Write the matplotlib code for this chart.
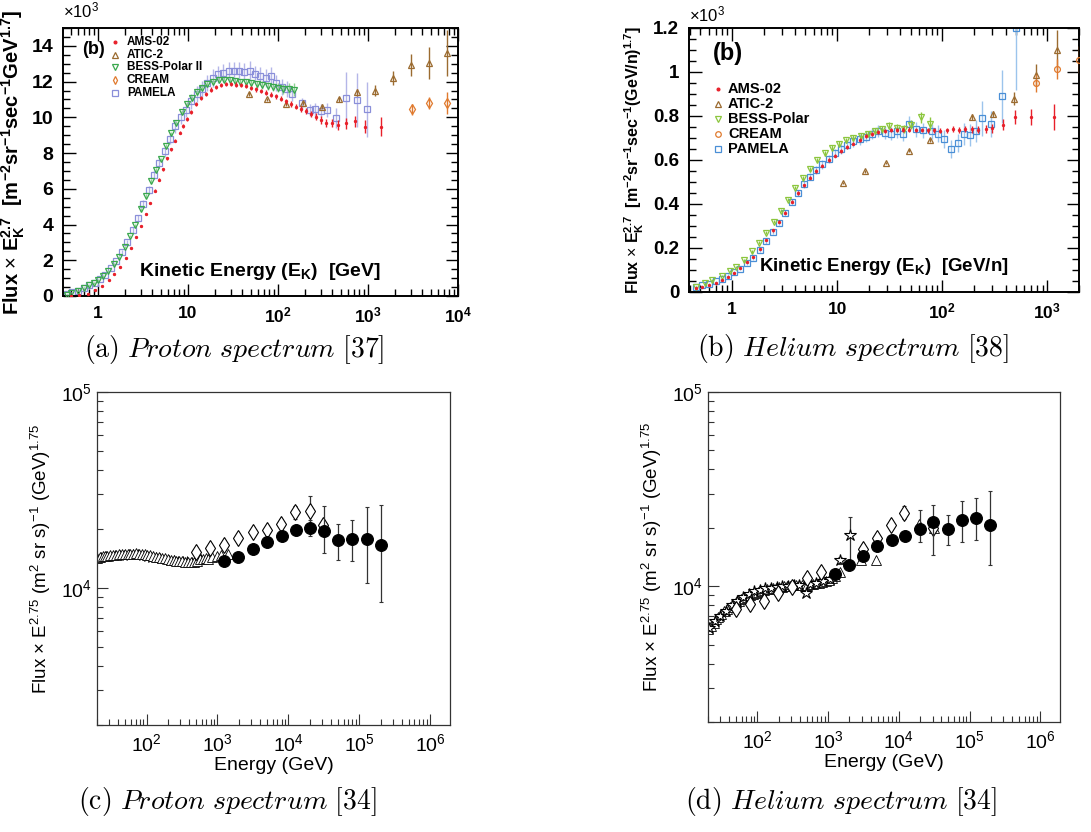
import matplotlib
matplotlib.use("Agg")
import matplotlib.pyplot as plt
from matplotlib.ticker import MultipleLocator, NullFormatter

plt.rcParams['font.family'] = ['Liberation Sans', 'DejaVu Sans']
plt.rcParams['mathtext.fontset'] = 'custom'
plt.rcParams['mathtext.rm'] = 'Liberation Sans'
plt.rcParams['mathtext.it'] = 'Liberation Sans:italic'
plt.rcParams['mathtext.bf'] = 'Liberation Sans:bold'

# ---------------- (a) proton spectrum, flux x E^2.7 (x1e3) ----------------
ams_p_e = [0.5, 0.61, 0.77, 0.93, 1.12, 1.33, 1.53, 1.77, 2.06, 2.34, 2.66, 3.03, 3.39, 3.81,
           4.26, 4.77, 5.27, 5.88, 6.5, 7.2, 8.08, 8.8, 9.7, 10.9, 12.3, 14.0, 16.0, 18.1, 20.6,
           23.5, 26.7, 30.3, 34.5, 39.2, 44.6, 50.7, 57.6, 65.5, 74.5, 84.7, 96.3, 109, 124,
           141, 160, 182, 207, 235, 267, 304, 345, 398, 464, 575, 710, 926, 1383]
ams_p_f = [0.02, 0.04, 0.13, 0.34, 0.57, 0.9, 1.23, 1.64, 2.15, 2.68, 3.3, 3.9, 4.58, 5.2,
           5.9, 6.5, 7.1, 7.7, 8.2, 8.7, 9.15, 9.5, 9.9, 10.3, 10.75, 11.1, 11.3, 11.55, 11.7,
           11.8, 11.85, 11.85, 11.83, 11.8, 11.74, 11.66, 11.57, 11.47, 11.38, 11.26, 11.17,
           11.04, 10.9, 10.75, 10.6, 10.47, 10.34, 10.19, 10.04, 9.85, 9.68, 9.68, 9.57, 9.66,
           9.77, 9.48, 9.48]
ams_p_err = [0.02, 0.02, 0.02, 0.03, 0.03, 0.04, 0.04, 0.05, 0.05, 0.05, 0.06, 0.06, 0.07, 0.07,
             0.08, 0.08, 0.09, 0.09, 0.1, 0.1, 0.1, 0.1, 0.1, 0.1, 0.12, 0.12, 0.12, 0.12, 0.12,
             0.12, 0.12, 0.12, 0.12, 0.12, 0.12, 0.12, 0.13, 0.13, 0.13, 0.14, 0.14, 0.15, 0.15,
             0.16, 0.16, 0.17, 0.18, 0.19, 0.2, 0.2, 0.22, 0.24, 0.26, 0.3, 0.33, 0.38, 0.54]

bess_p_e = [0.45, 0.5, 0.6, 0.7, 0.8, 0.9, 1.0, 1.15, 1.3, 1.5, 1.7, 2.0, 2.3, 2.6, 3.0, 3.4,
            3.9, 4.4, 5.0, 5.7, 6.5, 7.4, 8.5, 9.7, 11, 12.5, 14.5, 16.5, 19, 22, 25, 29, 33,
            38, 44, 50, 58, 67, 77, 88, 100, 115, 132, 150]
bess_p_f = [0.08, 0.17, 0.3, 0.45, 0.6, 0.72, 0.88, 1.1, 1.4, 1.8, 2.2, 2.75, 3.35, 3.95, 4.85,
            5.6, 6.45, 7.05, 7.65, 8.4, 9.1, 9.7, 10.3, 10.75, 11.1, 11.4, 11.65, 11.85, 12.0,
            12.1, 12.1, 12.1, 12.05, 12.0, 11.95, 11.9, 11.85, 11.8, 11.75, 11.7, 11.65, 11.6,
            11.6, 11.55]
bess_p_err = [0.03, 0.03, 0.03, 0.03, 0.04, 0.04, 0.05, 0.05, 0.05, 0.06, 0.06, 0.07, 0.07, 0.08,
              0.08, 0.09, 0.1, 0.1, 0.1, 0.1, 0.1, 0.12, 0.12, 0.12, 0.12, 0.14, 0.14, 0.15, 0.15,
              0.15, 0.15, 0.16, 0.16, 0.17, 0.18, 0.19, 0.2, 0.21, 0.22, 0.24, 0.26, 0.28, 0.3,
              0.35]

pam_p_e = [0.45, 0.52, 0.6, 0.7, 0.8, 0.92, 1.05, 1.2, 1.4, 1.6, 1.85, 2.1, 2.45, 2.8, 3.2, 3.7,
           4.2, 4.8, 5.5, 6.3, 7.2, 8.3, 9.5, 10.9, 12.5, 14.3, 16.4, 18.8, 21.5, 24.7, 28.3,
           32.4, 37.1, 42.5, 48.7, 55.8, 64, 73, 84, 96, 110, 126, 144, 183, 227, 261, 300,
           348, 440, 565, 750, 980]
pam_p_f = [0.1, 0.2, 0.3, 0.45, 0.6, 0.75, 0.95, 1.2, 1.55, 1.95, 2.45, 3.0, 3.7, 4.35, 5.15,
           5.95, 6.8, 7.45, 8.1, 8.8, 9.5, 10.0, 10.4, 10.9, 11.3, 11.6, 11.9, 12.2, 12.4,
           12.5, 12.6, 12.6, 12.6, 12.55, 12.6, 12.4, 12.3, 12.2, 12.3, 11.9, 11.7, 11.6, 11.3,
           10.79, 10.4, 10.45, 10.37, 10.41, 9.98, 11.1, 10.97, 10.45]
pam_p_err = [0.03, 0.03, 0.04, 0.04, 0.05, 0.05, 0.06, 0.06, 0.07, 0.08, 0.1, 0.12, 0.15, 0.18,
             0.2, 0.22, 0.25, 0.28, 0.3, 0.32, 0.35, 0.38, 0.4, 0.42, 0.45, 0.45, 0.45, 0.5, 0.5,
             0.5, 0.5, 0.5, 0.5, 0.5, 0.55, 0.5, 0.5, 0.5, 0.5, 0.45, 0.45, 0.45, 0.4, 0.3, 0.35,
             0.35, 0.35, 0.4, 0.55, 1.45, 1.5, 1.55]

atic_p_e = [48, 76, 122, 191, 306, 480, 760, 1196, 1880, 2980, 4790, 7480]
atic_p_f = [11.29, 11.01, 10.73, 10.79, 10.6, 11.01, 11.4, 11.5, 12.2, 12.93, 13.03, 13.59]
atic_p_err = [0.1, 0.1, 0.1, 0.12, 0.12, 0.15, 0.2, 0.3, 0.4, 0.6, 0.9, 1.3]

cream_p_e = [3050, 4790, 7600]
cream_p_f = [10.45, 10.79, 10.79]
cream_p_err = [0.3, 0.35, 0.6]

# ---------------- (b) helium spectrum, flux x E^2.7 (x1e3) ----------------
ams_he_e = [0.45, 0.52, 0.6, 0.7, 0.8, 0.92, 1.05, 1.2, 1.4, 1.6, 1.85, 2.1, 2.45, 2.8, 3.2,
            3.7, 4.2, 4.8, 5.5, 6.3, 7.2, 8.3, 9.5, 10.9, 12.5, 14.3, 16.4, 18.8, 21.5, 24.7,
            28.3, 32.4, 37.1, 42.5, 48.7, 55.8, 64, 73, 84, 96, 110, 126, 144, 165, 190, 220,
            260, 300, 380, 490, 700, 1150]
ams_he_f = [0.018, 0.025, 0.032, 0.042, 0.055, 0.07, 0.085, 0.11, 0.135, 0.16, 0.195, 0.235,
            0.28, 0.32, 0.36, 0.41, 0.45, 0.485, 0.52, 0.55, 0.575, 0.6, 0.62, 0.64, 0.66,
            0.675, 0.69, 0.71, 0.72, 0.727, 0.733, 0.735, 0.737, 0.738, 0.738, 0.737, 0.736,
            0.735, 0.735, 0.734, 0.735, 0.742, 0.735, 0.742, 0.74, 0.738, 0.74, 0.745, 0.76,
            0.795, 0.795, 0.795]
ams_he_err = [0.002, 0.002, 0.002, 0.003, 0.003, 0.003, 0.004, 0.004, 0.004, 0.005, 0.005, 0.005,
              0.006, 0.006, 0.006, 0.007, 0.007, 0.007, 0.008, 0.008, 0.008, 0.008, 0.008, 0.008,
              0.008, 0.008, 0.009, 0.009, 0.009, 0.009, 0.009, 0.009, 0.01, 0.01, 0.01, 0.01, 0.01,
              0.011, 0.011, 0.012, 0.012, 0.013, 0.013, 0.014, 0.015, 0.016, 0.018, 0.02, 0.025,
              0.03, 0.035, 0.06]

bess_he_e = [0.45, 0.55, 0.65, 0.8, 0.95, 1.1, 1.3, 1.55, 1.8, 2.1, 2.5, 2.9, 3.4, 4.0, 4.7,
             5.5, 6.5, 7.6, 8.9, 10.4, 12.2, 14.3, 16.8, 19.7, 23, 27, 31.5, 37, 43, 51, 63, 76]
bess_he_f = [0.025, 0.04, 0.055, 0.075, 0.095, 0.115, 0.145, 0.185, 0.225, 0.27, 0.32, 0.37,
             0.42, 0.475, 0.52, 0.56, 0.6, 0.63, 0.655, 0.675, 0.69, 0.7, 0.71, 0.72, 0.73,
             0.74, 0.755, 0.745, 0.74, 0.76, 0.795, 0.765]
bess_he_err = [0.003, 0.003, 0.003, 0.004, 0.004, 0.005, 0.005, 0.006, 0.006, 0.007, 0.007, 0.008,
               0.008, 0.009, 0.009, 0.01, 0.01, 0.01, 0.011, 0.011, 0.012, 0.012, 0.013, 0.013,
               0.014, 0.015, 0.016, 0.017, 0.018, 0.02, 0.025, 0.03]

pam_he_e = [0.45, 0.52, 0.6, 0.7, 0.8, 0.92, 1.05, 1.2, 1.4, 1.6, 1.85, 2.1, 2.45, 2.8, 3.2,
            3.7, 4.2, 4.8, 5.5, 6.3, 7.2, 8.3, 9.5, 10.9, 12.5, 14.3, 16.4, 18.8, 21.5, 24.7,
            28.3, 32.4, 37.1, 42.5, 48, 56, 66, 80, 92, 103, 122, 140, 160, 185, 210, 240,
            290, 370, 500]
pam_he_f = [0.025, 0.03, 0.038, 0.048, 0.06, 0.075, 0.09, 0.105, 0.13, 0.155, 0.19, 0.23,
            0.275, 0.315, 0.36, 0.41, 0.45, 0.49, 0.525, 0.555, 0.58, 0.605, 0.63, 0.65, 0.67,
            0.685, 0.695, 0.705, 0.72, 0.73, 0.725, 0.72, 0.73, 0.72, 0.765, 0.74, 0.735, 0.73,
            0.72, 0.695, 0.65, 0.677, 0.72, 0.712, 0.733, 0.79, 0.765, 0.89, 1.2]
pam_he_err = [0.003, 0.003, 0.004, 0.004, 0.005, 0.005, 0.006, 0.006, 0.007, 0.008, 0.009, 0.01,
              0.011, 0.012, 0.013, 0.014, 0.015, 0.016, 0.017, 0.018, 0.019, 0.02, 0.02, 0.022,
              0.022, 0.024, 0.025, 0.025, 0.026, 0.027, 0.028, 0.03, 0.03, 0.032, 0.035, 0.035,
              0.035, 0.035, 0.04, 0.04, 0.04, 0.04, 0.05, 0.05, 0.05, 0.08, 0.06, 0.12, 0.28]

atic_he_e = [11.3, 18.3, 29.5, 48, 76, 193, 306, 482, 774, 1227]
atic_he_f = [0.495, 0.548, 0.586, 0.642, 0.692, 0.795, 0.809, 0.879, 0.988, 1.1]
atic_he_err = [0.004, 0.005, 0.006, 0.007, 0.009, 0.012, 0.015, 0.03, 0.05, 0.09]

cream_he_e = [786, 1245, 1995]
cream_he_f = [0.95, 1.015, 1.056]
cream_he_err = [0.04, 0.045, 0.06]

# ---------------- (c) proton spectrum, flux x E^2.75 ----------------
tri_c_e = [20, 22, 24, 26, 28, 31, 34, 37, 41, 45, 49, 54, 59, 65, 71, 78, 86, 94, 103, 113,
           124, 136, 150, 165, 181, 199, 219, 240, 264, 290, 319, 350, 385, 423, 465, 510,
           565, 620, 680, 740, 830, 970, 1130, 1410]
tri_c_f = [14300, 14400, 14500, 14550, 14600, 14700, 14750, 14800, 14850, 14900, 14900, 14950,
           14950, 14950, 15000, 14950, 14900, 14850, 14750, 14650, 14550, 14450, 14350, 14250,
           14150, 14050, 13950, 13850, 13800, 13750, 13700, 13650, 13600, 13600, 13650, 13700,
           14050, 14100, 14300, 14070, 14400, 14500, 14700, 14950]
star_c_e = [20, 23, 27, 31, 36, 42, 48, 56, 65, 75, 87, 100, 116, 134, 156, 180, 209, 242,
            280, 324, 376, 435, 505, 585]
star_c_f = [14000, 14200, 14350, 14450, 14500, 14550, 14600, 14650, 14700, 14750, 14600,
            14450, 14300, 14150, 14000, 13900, 13800, 13700, 13600, 13550, 13500, 13450,
            13600, 13900]
circ_c_e = [1242, 1977, 3203, 5050, 8050, 12690, 20200, 31800, 50700, 80000, 127300, 200500]
circ_c_f = [13680, 14390, 15810, 17110, 18490, 19770, 20230, 19450, 17650, 17870, 17870, 16640]
circ_c_lo = [13300, 14000, 15400, 16700, 18000, 18650, 18500, 15100, 13960, 13790, 10600, 8450]
circ_c_hi = [14050, 14800, 16200, 17500, 19000, 20900, 22300, 26100, 21300, 22150, 25900, 26600]
diam_c_e = [491, 781, 1233, 1963, 3126, 4930, 7850, 12360, 20150, 31000]
diam_c_f = [15200, 16000, 16650, 17990, 19310, 19860, 21290, 24320, 24820, 20890]
diam_c_lo = [14800, 15600, 16200, 17500, 18700, 19100, 20200, 22400, 20600, 19800]
diam_c_hi = [15600, 16400, 17100, 18500, 19900, 20600, 22400, 26300, 29400, 22000]

# ---------------- (d) helium spectrum, flux x E^2.75 ----------------
tri_d_e = [20, 22, 24, 26, 28, 31, 34, 37, 41, 45, 49, 54, 59, 65, 71, 78, 86, 94, 103, 113,
           124, 136, 150, 165, 181, 199, 219, 240, 264, 290, 319, 350, 385, 423, 465, 510,
           565, 620, 680, 750, 830, 920, 1020, 1130, 1250, 1470, 2950, 4690, 19400, 31000]
tri_d_f = [6000, 6250, 6500, 6750, 6950, 7200, 7450, 7650, 7850, 8050, 8250, 8400, 8550, 8700,
           8850, 9000, 9100, 9250, 9350, 9450, 9550, 9650, 9700, 9800, 9850, 9900, 9950, 10000,
           10000, 10050, 10100, 10100, 10150, 10150, 10200, 10200, 10250, 10300, 10350, 10450,
           10550, 10700, 10800, 11000, 11300, 11800, 13580, 13580, 21000, 20000]
star_d_e = [21, 25, 30, 36, 43, 52, 62, 75, 90, 108, 130, 156, 187, 225, 270, 324, 389, 482,
            560, 680, 850, 1050, 1470, 2020]
star_d_f = [6100, 6600, 7000, 7500, 8000, 8400, 8800, 9100, 9400, 9600, 9750, 9850, 9950,
            10000, 10050, 10100, 10150, 9240, 10300, 10400, 10600, 10900, 13580, 18280]
star_d_lo = [6000, 6500, 6900, 7400, 7900, 8300, 8700, 9000, 9300, 9500, 9650, 9750, 9850,
             9900, 9950, 10000, 10050, 9000, 10100, 10200, 10400, 10600, 13000, 12500]
star_d_hi = [6200, 6700, 7100, 7600, 8100, 8500, 8900, 9200, 9500, 9700, 9850, 9950, 10050,
             10100, 10150, 10200, 10250, 9500, 10500, 10600, 10800, 11200, 14200, 22700]
circ_d_e = [1270, 1960, 3130, 4940, 7870, 12400, 19600, 30500, 49200, 77100, 121600, 194000]
circ_d_f = [11580, 12890, 14290, 16100, 17230, 18150, 19820, 21300, 19820, 22030, 22480, 20600]
circ_d_lo = [11250, 12500, 13800, 15500, 16700, 17300, 16900, 14400, 16360, 16900, 17220, 12800]
circ_d_hi = [11900, 13300, 14800, 16700, 17800, 18900, 24800, 26100, 23400, 27500, 28600, 31000]
diam_d_e = [50.5, 78.8, 124, 198, 312, 498, 785, 3130, 4940, 7690, 12000, 30500]
diam_d_f = [7640, 8100, 8430, 9250, 9900, 11040, 11810, 15600, 17780, 20760, 23930, 20000]
diam_d_lo = [7500, 7950, 8250, 9050, 9700, 10800, 11500, 15100, 17000, 19800, 22300, 19300]
diam_d_hi = [7800, 8250, 8600, 9450, 10100, 11300, 12100, 16200, 18600, 21800, 25800, 20800]

legend_a = ['AMS-02', 'ATIC-2', 'BESS-Polar II', 'CREAM', 'PAMELA']
legend_b = ['AMS-02', 'ATIC-2', 'BESS-Polar', 'CREAM', 'PAMELA']

W, H = 1091, 832
fig = plt.figure(figsize=(W / 100, H / 100), dpi=100)


def px_axes(l, r, t, b):
    return fig.add_axes([l / W, 1 - b / H, (r - l) / W, (b - t) / H])


def style_top(ax, xticks, xlabels, yticks, ylabels, yminor, ysize):
    ax.set_xscale('log')
    ax.set_xticks(xticks)
    ax.set_xticklabels(xlabels, fontweight='bold')
    ax.xaxis.set_minor_formatter(NullFormatter())
    ax.set_yticks(yticks)
    ax.set_yticklabels(ylabels, fontweight='bold')
    ax.yaxis.set_minor_locator(MultipleLocator(yminor))
    ax.tick_params(which='both', direction='in', top=True, right=True, labelsize=12.5,
                   width=1.0, color='black')
    ax.tick_params(axis='y', labelsize=ysize, pad=7)
    ax.tick_params(which='major', length=9)
    ax.tick_params(which='minor', length=5)
    ax.tick_params(axis='x', pad=7)
    for s in ax.spines.values():
        s.set_linewidth(1.4)


def eb(ax, x, y, err, fmt, color, ms, ecolor=None, z=2):
    ax.errorbar(x, y, yerr=err, fmt=fmt, color=color, ms=ms, mfc=color if fmt == '.' else 'none',
                mec=color, mew=0.9, ecolor=ecolor or color, elinewidth=1.0, capsize=0, zorder=z)


def manual_legend(ax, labels, markers, colors, xm, xt, ys, ms, fs):
    for lab, mk, col, y in zip(labels, markers, colors, ys):
        ax.plot([xm], [y], transform=ax.transAxes, ls='none', marker=mk, ms=ms,
                mfc=col if mk == '.' else 'none', mec=col, mew=0.9, clip_on=False)
        ax.text(xt, y, lab, transform=ax.transAxes, fontsize=fs, fontweight='bold',
                va='center', ha='left')


# colours
c_ams = '#e8202a'
c_atic = '#9b6b30'
c_cream = '#e07a2e'
c_bess_a = '#3aa84e'
c_pam_a = '#8a8fd9'
c_bess_b = '#8cc63e'
c_pam_b = '#4a8fd6'

# ---------- panel (a)
ax = px_axes(63, 458, 28, 296)
eb(ax, pam_p_e, pam_p_f, pam_p_err, 's', c_pam_a, 4.6, ecolor='#b4b6e8', z=2)
eb(ax, bess_p_e, bess_p_f, bess_p_err, 'v', c_bess_a, 4.3, ecolor='#8fd093', z=3)
eb(ax, ams_p_e, ams_p_f, ams_p_err, '.', c_ams, 3.0, z=4)
eb(ax, atic_p_e, atic_p_f, atic_p_err, '^', c_atic, 4.8, z=3)
eb(ax, cream_p_e, cream_p_f, cream_p_err, 'd', c_cream, 5, z=3)
ax.set_xlim(0.41, 1e4)
ax.set_ylim(0, 15)
style_top(ax, [1, 10, 100, 1000, 10000],
          ['1', '10', r'$\mathbf{10^{2}}$', r'$\mathbf{10^{3}}$', r'$\mathbf{10^{4}}$'],
          [0, 2, 4, 6, 8, 10, 12, 14], ['0', '2', '4', '6', '8', '10', '12', '14'], 0.5, 14)
ax.set_ylabel(r'Flux $\times$ E$_{\mathbf{K}}^{\mathbf{2.7}}$  [m$^{\mathbf{-2}}$sr$^{\mathbf{-1}}$'
              r'sec$^{\mathbf{-1}}$GeV$^{\mathbf{1.7}}$]', fontsize=14.5, fontweight='bold', labelpad=3)
ax.text(0.5, 0.09, r'Kinetic Energy (E$_{\mathbf{K}}$)  [GeV]', transform=ax.transAxes,
        ha='center', va='center', fontsize=14, fontweight='bold')
ax.text(0.0, 1.03, r'$\times$10$^{3}$', transform=ax.transAxes, ha='left', va='bottom', fontsize=12)
ax.text(0.048, 0.92, '(b)', transform=ax.transAxes, fontsize=13, fontweight='bold', va='center')
manual_legend(ax, legend_a, ['.', '^', 'v', 'd', 's'],
              [c_ams, c_atic, c_bess_a, c_cream, c_pam_a],
              0.132, 0.162, [0.948, 0.901, 0.854, 0.806, 0.757], 4, 8.5)

# ---------- panel (b)
ax = px_axes(689, 1079, 28, 292)
eb(ax, pam_he_e, pam_he_f, pam_he_err, 's', c_pam_b, 4.6, ecolor='#9cc4ec', z=2)
eb(ax, bess_he_e, bess_he_f, bess_he_err, 'v', c_bess_b, 4.6, z=3)
eb(ax, ams_he_e, ams_he_f, ams_he_err, '.', c_ams, 3.0, z=4)
eb(ax, atic_he_e, atic_he_f, atic_he_err, '^', c_atic, 4.6, z=3)
eb(ax, cream_he_e, cream_he_f, cream_he_err, 'o', c_cream, 4.2, z=3)
ax.set_xlim(0.39, 2000)
ax.set_ylim(0, 1.2)
style_top(ax, [1, 10, 100, 1000],
          ['1', '10', r'$\mathbf{10^{2}}$', r'$\mathbf{10^{3}}$'],
          [0, 0.2, 0.4, 0.6, 0.8, 1.0, 1.2], ['0', '0.2', '0.4', '0.6', '0.8', '1', '1.2'], 0.05,
          13.5)
ax.set_ylabel(r'Flux $\times$ E$_{\mathbf{K}}^{\mathbf{2.7}}$  [m$^{\mathbf{-2}}$sr$^{\mathbf{-1}}$'
              r'sec$^{\mathbf{-1}}$(GeV/n)$^{\mathbf{1.7}}$]', fontsize=11.5, fontweight='bold',
              labelpad=5)
ax.text(0.5, 0.095, r'Kinetic Energy (E$_{\mathbf{K}}$)  [GeV/n]', transform=ax.transAxes,
        ha='center', va='center', fontsize=13.5, fontweight='bold')
ax.text(0.0, 1.015, r'$\times$10$^{3}$', transform=ax.transAxes, ha='left', va='bottom', fontsize=12)
ax.text(0.062, 0.905, '(b)', transform=ax.transAxes, fontsize=17, fontweight='bold', va='center')
manual_legend(ax, legend_b, ['.', '^', 'v', 'o', 's'],
              [c_ams, c_atic, c_bess_b, c_cream, c_pam_b],
              0.074, 0.1, [0.769, 0.712, 0.655, 0.598, 0.542], 4, 10.5)


# ---------- bottom panels
def style_bottom(ax):
    ax.set_xscale('log')
    ax.set_yscale('log')
    ax.set_xlim(20, 1.9e6)
    ax.set_ylim(2000, 1e5)
    ax.set_xticks([1e2, 1e3, 1e4, 1e5, 1e6])
    ax.set_xticklabels([r'$10^{2}$', r'$10^{3}$', r'$10^{4}$', r'$10^{5}$', r'$10^{6}$'])
    ax.set_yticks([1e4, 1e5])
    ax.set_yticklabels([r'$10^{4}$', r'$10^{5}$'])
    ax.xaxis.set_minor_formatter(NullFormatter())
    ax.yaxis.set_minor_formatter(NullFormatter())
    ax.tick_params(which='both', direction='in', labelsize=14, width=0.8, color='#333333')
    ax.tick_params(which='major', length=8)
    ax.tick_params(which='minor', length=4)
    ax.tick_params(axis='x', pad=6)
    for s in ax.spines.values():
        s.set_linewidth(0.9)
        s.set_color('#333333')
    ax.set_xlabel('Energy (GeV)', fontsize=14, labelpad=1)
    ax.set_ylabel(r'Flux $\times$ E$^{2.75}$ (m$^{2}$ sr s)$^{-1}$ (GeV)$^{1.75}$', fontsize=13.5,
                  labelpad=6)


def ebc(ax, x, y, lo, hi, fmt, ms, mfc, z=3):
    yerr = [[yy - l for yy, l in zip(y, lo)], [h - yy for yy, h in zip(y, hi)]]
    ax.errorbar(x, y, yerr=yerr, fmt=fmt, ms=ms, mfc=mfc, mec='black', mew=0.8,
                ecolor='#333333', elinewidth=0.9, capsize=1.5, capthick=0.8, zorder=z)


ax = px_axes(97, 450, 392, 725)
ax.plot(star_c_e, star_c_f, ls='none', marker='*', ms=8, mfc='white', mec='black', mew=0.6)
ax.plot(tri_c_e, tri_c_f, ls='none', marker='^', ms=7, mfc='white', mec='black', mew=0.6)
ebc(ax, diam_c_e, diam_c_f, diam_c_lo, diam_c_hi, 'd', 8.5, 'white')
ebc(ax, circ_c_e, circ_c_f, circ_c_lo, circ_c_hi, 'o', 8.5, 'black', z=4)
style_bottom(ax)

ax = px_axes(708, 1060, 392, 722)
ebc(ax, star_d_e, star_d_f, star_d_lo, star_d_hi, '*', 9, 'white', z=2)
ax.plot(tri_d_e, tri_d_f, ls='none', marker='^', ms=7, mfc='white', mec='black', mew=0.6)
ebc(ax, diam_d_e, diam_d_f, diam_d_lo, diam_d_hi, 'd', 8.5, 'white')
ebc(ax, circ_d_e, circ_d_f, circ_d_lo, circ_d_hi, 'o', 8.5, 'black', z=4)
style_bottom(ax)

# ---------- captions
cap = dict(math_fontfamily='cm', fontsize=20, ha='center', va='center')
fig.text(234 / W, 1 - 350 / H, r'$\mathrm{(a)}\ \mathit{Proton\ spectrum\ [37]}$', **cap)
fig.text(853 / W, 1 - 348 / H, r'$\mathrm{(b)}\ \mathit{Helium\ spectrum\ [38]}$', **cap)
fig.text(227 / W, 1 - 802 / H, r'$\mathrm{(c)}\ \mathit{Proton\ spectrum\ [34]}$', **cap)
fig.text(841 / W, 1 - 802 / H, r'$\mathrm{(d)}\ \mathit{Helium\ spectrum\ [34]}$', **cap)

fig.savefig('out.png', dpi=100, facecolor='white')
